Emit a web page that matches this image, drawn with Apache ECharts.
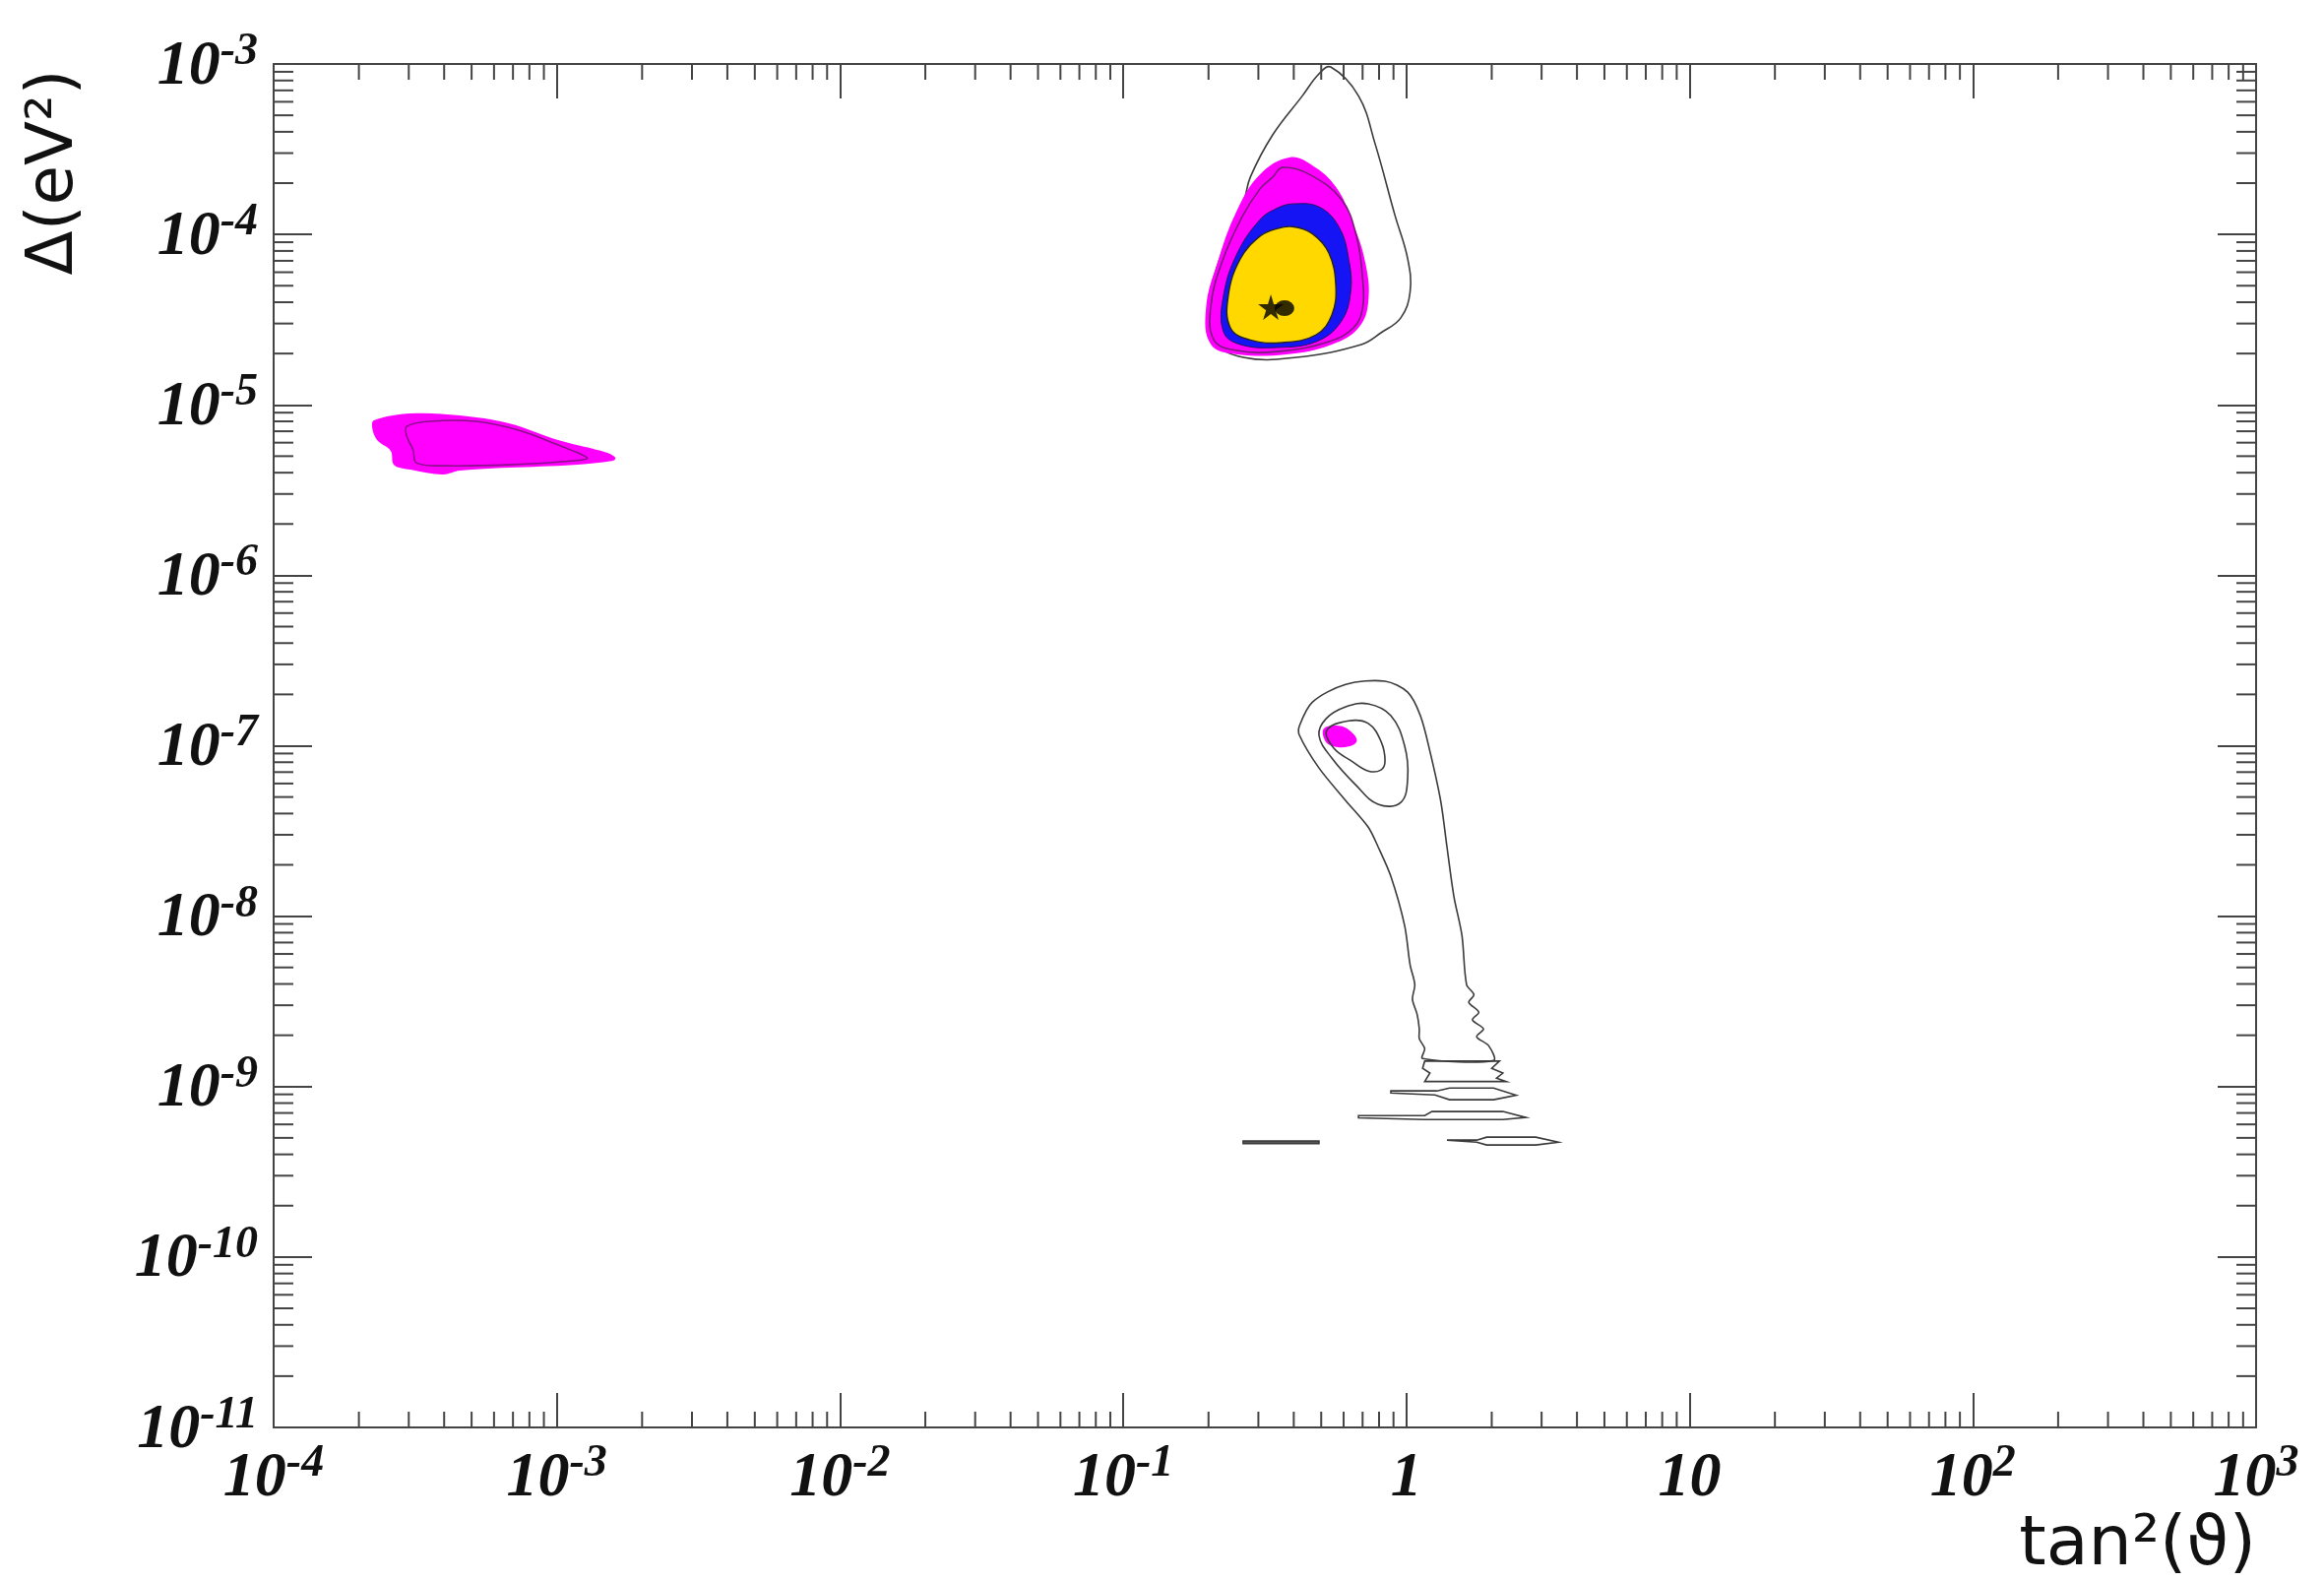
<!DOCTYPE html>
<html>
<head>
<meta charset="utf-8">
<title>tan²(ϑ) – Δ(eV²)</title>
<script src="https://cdn.jsdelivr.net/npm/echarts@6/dist/echarts.min.js"></script>
<style>
  html, body { margin: 0; padding: 0; background: #fff; }
  #chart { width: 2361px; height: 1606px; }
</style>
</head>
<body>
<div id="chart"></div>
<script>
// axis ranges: x = tan^2(theta), y = delta m^2 (eV^2)
const xRange = [1e-4, 1e3];
const yRange = [1e-11, 1e-3];
const xDecades = [-4, -3, -2, -1, 0, 1, 2];
const yDecades = [-11, -10, -9, -8, -7, -6, -5, -4];
const minorSteps = [2, 3, 4, 5, 6, 7, 8, 9];

// LMA solution (upper island)
const lmaOuterContour = [
  [0.54, 9.6e-4], [0.677, 6.5e-4], [0.775, 3.4e-4], [0.91, 1.3e-4], [1.01, 7.2e-5],
  [1.03, 4.6e-5], [0.955, 3.24e-5], [0.813, 2.65e-5], [0.693, 2.26e-5], [0.409, 1.9e-5],
  [0.265, 1.9e-5], [0.207, 2.4e-5], [0.2, 3.84e-5], [0.221, 7.5e-5], [0.265, 1.51e-4],
  [0.281, 2.17e-4], [0.337, 3.84e-4], [0.429, 6.5e-4], [0.491, 8.75e-4]
];
const lmaMagenta = [
  [0.386, 2.83e-4], [0.465, 2.54e-4], [0.563, 1.9e-4], [0.64, 1.22e-4], [0.716, 6.81e-5],
  [0.733, 4.0e-5], [0.677, 2.83e-5], [0.545, 2.26e-5], [0.377, 1.98e-5], [0.253, 1.98e-5],
  [0.204, 2.26e-5], [0.196, 3.69e-5], [0.215, 6.81e-5], [0.253, 1.4e-4], [0.304, 2.25e-4]
];
const lmaInnerContour = [
  [0.337, 2.17e-4], [0.365, 2.47e-4], [0.454, 2.25e-4], [0.59, 1.6e-4], [0.666, 9.75e-5],
  [0.7, 5.5e-5], [0.7, 3.69e-5], [0.65, 2.83e-5], [0.532, 2.35e-5], [0.357, 2.06e-5],
  [0.249, 2.09e-5], [0.209, 2.4e-5], [0.204, 3.84e-5], [0.224, 7.0e-5], [0.263, 1.27e-4],
  [0.304, 1.85e-4]
];
const lmaBlue = [
  [0.396, 1.51e-4], [0.491, 1.45e-4], [0.577, 1.11e-4], [0.625, 7.18e-5], [0.635, 4.57e-5],
  [0.586, 3.06e-5], [0.48, 2.35e-5], [0.348, 2.17e-5], [0.259, 2.26e-5], [0.226, 2.68e-5],
  [0.226, 4.39e-5], [0.253, 7.78e-5], [0.304, 1.22e-4], [0.348, 1.42e-4]
];
const lmaYellow = [
  [0.396, 1.11e-4], [0.465, 1.01e-4], [0.532, 7.78e-5], [0.563, 5.01e-5], [0.545, 3.37e-5],
  [0.48, 2.58e-5], [0.365, 2.32e-5], [0.281, 2.4e-5], [0.239, 2.83e-5], [0.235, 4.39e-5],
  [0.259, 7.18e-5], [0.304, 9.75e-5], [0.348, 1.08e-4]
];
const bestFitStar = [[0.332, 3.74e-5]];
const bestFitDot = [[0.371, 3.69e-5]];

// SMA solution (left island)
const smaMagenta = [
  [2.26e-4, 8.1e-6], [3.04e-4, 8.89e-6], [4.54e-4, 8.66e-6], [6.77e-4, 7.79e-6], [1.01e-3, 6.21e-6],
  [1.51e-3, 5.23e-6], [1.61e-3, 4.89e-6], [1.58e-3, 4.7e-6], [1.15e-3, 4.45e-6], [6.77e-4, 4.28e-6],
  [4.54e-4, 4.11e-6], [3.96e-4, 3.9e-6], [3.04e-4, 4.17e-6], [2.66e-4, 4.45e-6], [2.59e-4, 5.37e-6],
  [2.32e-4, 6.21e-6], [2.23e-4, 7.29e-6]
];
const smaInnerContour = [
  [2.95e-4, 7.48e-6], [3.57e-4, 8.0e-6], [5.16e-4, 8.0e-6], [7.33e-4, 7.1e-6], [1.01e-3, 5.81e-6],
  [1.28e-3, 4.89e-6], [1.15e-3, 4.7e-6], [6.77e-4, 4.45e-6], [3.96e-4, 4.39e-6], [3.19e-4, 4.57e-6],
  [3.11e-4, 5.43e-6], [2.95e-4, 6.55e-6]
];

// LOW / vacuum solutions (lower region)
const lowOuterContour = [
  [0.61, 2.29e-7], [0.84, 2.39e-7], [1.01, 2.06e-7], [1.12, 1.5e-7], [1.21, 9.28e-8],
  [1.32, 4.77e-8], [1.39, 2.55e-8], [1.47, 1.31e-8], [1.57, 7.71e-9], [1.63, 3.97e-9],
  [1.73, 3.46e-9], [1.66, 3.12e-9], [1.8, 2.73e-9], [1.71, 2.46e-9], [1.87, 2.18e-9],
  [1.77, 1.96e-9], [1.95, 1.74e-9], [2.03, 1.42e-9], [1.14, 1.46e-9], [1.16, 1.67e-9],
  [1.11, 1.91e-9], [1.11, 2.18e-9], [1.09, 2.66e-9], [1.05, 3.25e-9], [1.07, 3.97e-9],
  [1.03, 5.18e-9], [0.985, 8.81e-9], [0.881, 1.71e-8], [0.794, 2.55e-8], [0.733, 3.33e-8],
  [0.61, 4.77e-8], [0.491, 7.4e-8], [0.419, 1.15e-7], [0.419, 1.31e-7], [0.465, 1.8e-7]
];
const lowMiddleContour = [
  [0.491, 1.15e-7], [0.52, 1.44e-7], [0.61, 1.69e-7], [0.733, 1.76e-7], [0.881, 1.5e-7],
  [0.985, 1.0e-7], [1.01, 6.48e-8], [0.955, 4.65e-8], [0.794, 4.53e-8], [0.661, 5.9e-8],
  [0.545, 8.46e-8]
];
const lowInnerContour = [
  [0.523, 1.23e-7], [0.625, 1.4e-7], [0.733, 1.35e-7], [0.813, 1.06e-7], [0.84, 8.13e-8],
  [0.813, 7.21e-8], [0.733, 7.11e-8], [0.64, 8.13e-8], [0.554, 9.66e-8]
];
const lowMagenta = [
  [0.511, 1.26e-7], [0.577, 1.31e-7], [0.63, 1.23e-7], [0.668, 1.07e-7], [0.625, 9.9e-8],
  [0.554, 9.9e-8], [0.516, 1.07e-7]
];
const lowBandA = [
  [1.16, 1.41e-9], [2.13, 1.41e-9], [2.0, 1.28e-9], [2.19, 1.2e-9], [2.08, 1.12e-9],
  [2.25, 1.07e-9], [1.16, 1.07e-9], [1.21, 1.2e-9], [1.14, 1.28e-9]
];
const lowBandB = [
  [0.881, 9.43e-10], [1.28, 9.43e-10], [1.42, 9.8e-10], [2.03, 9.8e-10], [2.44, 8.9e-10],
  [2.03, 8.37e-10], [1.42, 8.37e-10], [1.26, 8.94e-10], [0.881, 9.18e-10]
];
const lowBandC = [
  [0.677, 6.76e-10], [1.16, 6.76e-10], [1.23, 7.14e-10], [2.19, 7.14e-10], [2.64, 6.59e-10],
  [2.19, 6.41e-10], [1.16, 6.41e-10], [0.677, 6.55e-10]
];
const lowBandD = [[0.265, 4.8e-10], [0.491, 4.8e-10], [0.491, 4.62e-10], [0.265, 4.62e-10]];
const lowBandE = [
  [1.39, 4.85e-10], [1.77, 4.85e-10], [1.92, 5.05e-10], [2.86, 5.05e-10], [3.44, 4.72e-10],
  [2.86, 4.54e-10], [1.92, 4.54e-10], [1.77, 4.72e-10]
];

const xMinorTicks = [];
xDecades.forEach(d => minorSteps.forEach(m => xMinorTicks.push(m * Math.pow(10, d))));
const yMinorTicks = [];
yDecades.forEach(d => minorSteps.forEach(m => yMinorTicks.push(m * Math.pow(10, d))));

const axisColor = '#444';
const contourLine = { fill: 'none', stroke: '#3a3a3a', lineWidth: 1.6 };

// one closed shape drawn from its list of points
function region(name, points, style, z, smooth) {
  return {
    name: name,
    type: 'custom',
    z: z,
    silent: true,
    animation: false,
    data: points,
    encode: { x: 0, y: 1 },
    renderItem: function (params, api) {
      if (params.dataIndex !== 0) return null;
      return {
        type: 'polygon',
        shape: { points: points.map(p => api.coord(p)), smooth: smooth },
        style: style
      };
    }
  };
}

function decadeLabel(v) {
  const e = Math.round(Math.log10(v));
  if (e === 0) return '{b|1}';
  if (e === 1) return '{b|10}';
  return '{b|10}{s|' + e + '}';
}

const labelRich = {
  b: {
    fontFamily: 'Liberation Serif', fontStyle: 'italic', fontWeight: 'bold',
    fontSize: 64, lineHeight: 70, color: '#111', verticalAlign: 'bottom'
  },
  s: {
    fontFamily: 'Liberation Serif', fontStyle: 'italic', fontWeight: 'bold',
    fontSize: 46, lineHeight: 44, color: '#111', verticalAlign: 'top'
  }
};

const tickStyle = { stroke: axisColor, lineWidth: 2 };

const chart = echarts.init(document.getElementById('chart'));

const option = {
  backgroundColor: '#fff',
  animation: false,
  grid: { left: 278, right: 69, top: 65, bottom: 156 },
  xAxis: [
    {
      type: 'log', logBase: 10, min: xRange[0], max: xRange[1], position: 'bottom',
      axisLine: { show: true, onZero: false, lineStyle: { color: axisColor, width: 2 } },
      axisTick: { show: true, inside: true, length: 35, lineStyle: { color: axisColor, width: 2 } },
      splitLine: { show: false },
      axisLabel: { show: true, margin: 14, formatter: decadeLabel, rich: labelRich, showMinLabel: true, showMaxLabel: true },
      name: 'tan²(ϑ)',
      nameLocation: 'end',
      nameGap: 0,
      nameTextStyle: {
        fontFamily: 'DejaVu Sans', fontSize: 70, color: '#111',
        align: 'right', verticalAlign: 'top', padding: [86, 0, 0, 0]
      }
    },
    {
      type: 'log', logBase: 10, min: xRange[0], max: xRange[1], position: 'top',
      axisLine: { show: true, onZero: false, lineStyle: { color: axisColor, width: 2 } },
      axisTick: { show: true, inside: true, length: 35, lineStyle: { color: axisColor, width: 2 } },
      splitLine: { show: false },
      axisLabel: { show: false }
    }
  ],
  yAxis: [
    {
      type: 'log', logBase: 10, min: yRange[0], max: yRange[1], position: 'left',
      axisLine: { show: true, onZero: false, lineStyle: { color: axisColor, width: 2 } },
      axisTick: { show: true, inside: true, length: 39, lineStyle: { color: axisColor, width: 2 } },
      splitLine: { show: false },
      axisLabel: { show: true, margin: 16, formatter: decadeLabel, rich: labelRich, showMinLabel: true, showMaxLabel: true }
    },
    {
      type: 'log', logBase: 10, min: yRange[0], max: yRange[1], position: 'right',
      axisLine: { show: true, onZero: false, lineStyle: { color: axisColor, width: 2 } },
      axisTick: { show: true, inside: true, length: 39, lineStyle: { color: axisColor, width: 2 } },
      splitLine: { show: false },
      axisLabel: { show: false }
    }
  ],
  graphic: [
    {
      type: 'text', x: 56, y: 175, rotation: Math.PI / 2,
      style: {
        text: 'Δ(eV²)', fontFamily: 'DejaVu Sans', fontSize: 66, fill: '#111',
        align: 'center', verticalAlign: 'middle'
      }
    }
  ],
  series: [
    region('LMA outer', lmaOuterContour, contourLine, 1, 0.4),
    region('LMA magenta', lmaMagenta, { fill: '#ff00ff' }, 2, 0.4),
    region('LMA inner', lmaInnerContour, { fill: 'none', stroke: '#7a1a7a', lineWidth: 1.6 }, 3, 0.4),
    region('LMA blue', lmaBlue, { fill: '#1414f5', stroke: '#2a1060', lineWidth: 1 }, 4, 0.4),
    region('LMA yellow', lmaYellow, { fill: '#ffd800', stroke: '#222', lineWidth: 1.4 }, 5, 0.4),
    region('SMA magenta', smaMagenta, { fill: '#ff00ff' }, 2, 0.35),
    region('SMA inner', smaInnerContour, { fill: 'none', stroke: '#8a108a', lineWidth: 1.6 }, 3, 0.35),
    region('LOW outer', lowOuterContour, contourLine, 3, 0.3),
    region('LOW middle', lowMiddleContour, contourLine, 3, 0.4),
    region('LOW inner', lowInnerContour, contourLine, 3, 0.4),
    region('LOW magenta', lowMagenta, { fill: '#ff00ff' }, 2, 0.4),
    region('band A', lowBandA, contourLine, 3, 0),
    region('band B', lowBandB, contourLine, 3, 0),
    region('band C', lowBandC, contourLine, 3, 0),
    region('band D', lowBandD, { fill: '#555', stroke: '#3a3a3a', lineWidth: 1.6 }, 3, 0),
    region('band E', lowBandE, contourLine, 3, 0),
    {
      name: 'best fit',
      type: 'scatter',
      z: 6,
      silent: true,
      data: bestFitStar,
      symbol: 'path://M50,0 L61,35 L98,35 L68,57 L79,91 L50,70 L21,91 L32,57 L2,35 L39,35 Z',
      symbolSize: 26,
      itemStyle: { color: '#000' }
    },
    {
      name: 'best fit dot',
      type: 'scatter',
      z: 6,
      silent: true,
      data: bestFitDot,
      symbol: 'circle',
      symbolSize: [20, 16],
      itemStyle: { color: '#000' }
    },
    {
      name: 'x minor ticks',
      type: 'custom',
      z: 10,
      silent: true,
      clip: false,
      data: xMinorTicks.map(v => [v, yRange[0]]),
      encode: { x: 0, y: 1 },
      renderItem: function (params, api) {
        const b = api.coord([api.value(0), yRange[0]]);
        const t = api.coord([api.value(0), yRange[1]]);
        return {
          type: 'group',
          children: [
            { type: 'line', shape: { x1: b[0], y1: b[1], x2: b[0], y2: b[1] - 16 }, style: tickStyle },
            { type: 'line', shape: { x1: t[0], y1: t[1], x2: t[0], y2: t[1] + 16 }, style: tickStyle }
          ]
        };
      }
    },
    {
      name: 'y minor ticks',
      type: 'custom',
      z: 10,
      silent: true,
      clip: false,
      data: yMinorTicks.map(v => [xRange[0], v]),
      encode: { x: 0, y: 1 },
      renderItem: function (params, api) {
        const l = api.coord([xRange[0], api.value(1)]);
        const r = api.coord([xRange[1], api.value(1)]);
        return {
          type: 'group',
          children: [
            { type: 'line', shape: { x1: l[0], y1: l[1], x2: l[0] + 20, y2: l[1] }, style: tickStyle },
            { type: 'line', shape: { x1: r[0], y1: r[1], x2: r[0] - 20, y2: r[1] }, style: tickStyle }
          ]
        };
      }
    }
  ]
};

chart.setOption(option);
window.addEventListener('resize', () => chart.resize());
</script>
</body>
</html>
